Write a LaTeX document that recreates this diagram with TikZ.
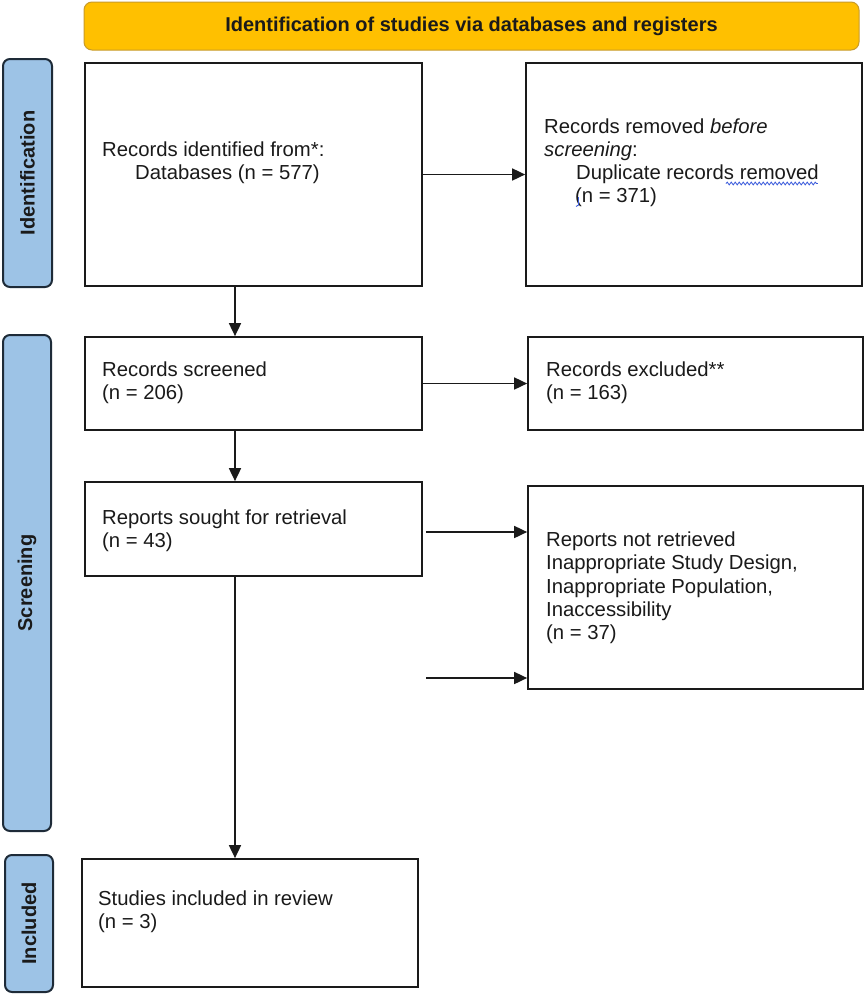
\documentclass[tikz,border=0pt]{standalone}
\usepackage{fontspec}
\setmainfont{Liberation Sans}
\usetikzlibrary{arrows.meta,calc,decorations.pathmorphing}
\definecolor{bannerfill}{HTML}{FFC000}
\definecolor{bannerline}{HTML}{C89B2A}
\definecolor{barfill}{HTML}{9DC3E6}
\definecolor{barline}{HTML}{1E2B38}
\definecolor{ink}{HTML}{1A1A1A}
\definecolor{squig}{HTML}{3B5BDB}
\begin{document}
\begin{tikzpicture}[x=1pt,y=-1pt,
  flowbox/.style={draw=ink, line width=1.7pt, fill=white, inner sep=0pt},
  sidebar/.style={draw=barline, fill=barfill, line width=2pt, rounded corners=7pt,
    rotate=90, font=\bfseries\fontsize{20}{24}\selectfont, text=ink, inner sep=0pt},
  banner/.style={draw=bannerline, fill=bannerfill, line width=1pt, rounded corners=8pt,
    font=\bfseries\fontsize{20}{24}\selectfont, text=ink, inner sep=0pt},
  txt/.style={anchor=base west, inner sep=0pt, font=\fontsize{20.3}{23.5}\selectfont, text=ink},
  flow/.style={draw=ink, line width=1.7pt, -{Triangle[length=13pt,width=12pt]}}]
\useasboundingbox (0,0) rectangle (867,994);
\fill[white] (0,0) rectangle (867,994);

% banner
\node[banner, minimum width=775pt, minimum height=48pt] (ban) at (471.5,26) {Identification of studies via databases and registers};

% side bars
\node[sidebar, minimum width=228pt, minimum height=49pt] (barI) at (27.5,173) {Identification};
\node[sidebar, minimum width=496pt, minimum height=48pt] (barS) at (27,583) {Screening};
\node[sidebar, minimum width=137pt, minimum height=48pt] (barN) at (29,923.5) {Included};

% boxes
\node[flowbox, minimum width=337pt, minimum height=223pt] (b1) at (253.5,174.5) {};
\node[flowbox, minimum width=336pt, minimum height=223pt] (b2) at (694,174.5) {};
\node[flowbox, minimum width=337pt, minimum height=93pt] (b3) at (253.5,383.5) {};
\node[flowbox, minimum width=335pt, minimum height=93pt] (b4) at (695.5,383.5) {};
\node[flowbox, minimum width=337pt, minimum height=94pt] (b5) at (253.5,529) {};
\node[flowbox, minimum width=335pt, minimum height=203pt] (b6) at (695.5,587.5) {};
\node[flowbox, minimum width=336pt, minimum height=128pt] (b7) at (250,923) {};

% texts
\node[txt] (t1a) at (102,156) {Records identified from*:};
\node[txt] (t1b) at (135,179) {Databases (n = 577)};

\node[txt] (t2a) at (544,133) {Records removed \textit{before}};
\node[txt] (t2b) at (544,156) {\textit{screening}:};
\node[txt] (t2c) at (576,179) {Duplicate records removed};
\node[txt] (t2d) at (575,202) {(n = 371)};

\node[txt] (t3a) at (102,376) {Records screened};
\node[txt] (t3b) at (102,399) {(n = 206)};

\node[txt] (t4a) at (546,376) {Records excluded**};
\node[txt] (t4b) at (546,399) {(n = 163)};

\node[txt] (t5a) at (102,524) {Reports sought for retrieval};
\node[txt] (t5b) at (102,547) {(n = 43)};

\node[txt] (t6a) at (546,546) {Reports not retrieved};
\node[txt] (t6b) at (546,569.5) {Inappropriate Study Design,};
\node[txt] (t6c) at (546,593) {Inappropriate Population,};
\node[txt] (t6d) at (546,616) {Inaccessibility};
\node[txt] (t6e) at (546,639) {(n = 37)};

\node[txt] (t7a) at (98,905.5) {Studies included in review};
\node[txt] (t7b) at (98,928) {(n = 3)};

% spell-check marks
\draw[squig, line width=0.8pt, decorate, decoration={snake, amplitude=1.4pt, segment length=4pt}]
  (t2c.base east) ++(-93,4.5) -- ++(92,0);
\draw[squig, line width=0.9pt] (578.5,197) -- (578.5,205) -- (576,206.5);

% connectors
\coordinate (ax) at (235,0);
\coordinate (c5) at ($(b5.east)+(3,3)$);
\coordinate (c6) at (426,678);
\draw[flow] (b1.east) -- (b2.west);
\draw[flow] (b1.south -| ax) -- (b3.north -| ax);
\draw[flow] (b3.east) -- (b4.west);
\draw[flow] (b3.south -| ax) -- (b5.north -| ax);
\draw[flow] (c5) -- (c5 -| b6.west);
\draw[flow] (c6) -- (c6 -| b6.west);
\draw[flow] (b5.south -| ax) -- (b7.north -| ax);
\end{tikzpicture}
\end{document}
